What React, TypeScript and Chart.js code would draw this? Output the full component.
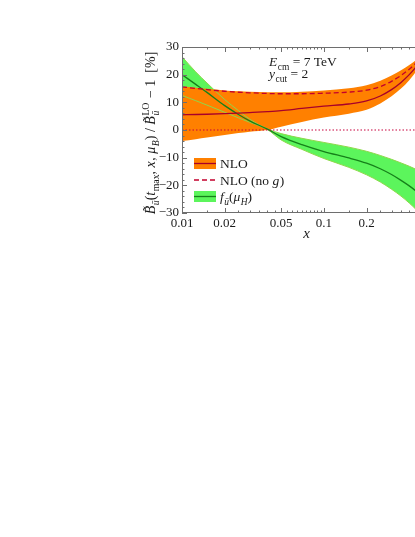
import React, { useEffect, useRef } from "react";
import { Chart, registerables } from "chart.js";

Chart.register(...registerables);

// ---------- data ----------
const X_VALUES = [0.01, 0.0125, 0.015, 0.02, 0.025, 0.03, 0.04, 0.05, 0.07, 0.1, 0.15, 0.2, 0.25, 0.3, 0.35, 0.4, 0.45, 0.5];
const NLO_CENTRAL = [5.5, 5.6, 5.7, 5.9, 6.1, 6.3, 6.65, 7.0, 7.8, 8.6, 9.4, 10.5, 12.3, 14.6, 17.2, 20.0, 23.0, 26.2];
const NLO_NO_G = [15.6, 15.0, 14.6, 14.0, 13.65, 13.45, 13.2, 13.1, 13.1, 13.3, 13.7, 14.4, 15.7, 17.6, 19.7, 22.0, 24.4, 27.0];
const NLO_UPPER = [15.8, 15.3, 14.9, 14.3, 14.0, 13.8, 13.6, 13.6, 13.8, 14.3, 15.1, 16.2, 17.8, 19.7, 21.6, 23.5, 25.4, 27.5];
const NLO_LOWER = [-4.0, -3.3, -2.7, -1.8, -1.1, -0.6, 0.0, 1.2, 2.9, 4.5, 5.9, 7.3, 9.6, 12.2, 15.0, 18.0, 21.3, 25.0];
const F_CENTRAL = [20.0, 16.5, 13.6, 8.8, 5.6, 3.3, 0.3, -2.4, -5.3, -7.8, -10.1, -12.0, -14.0, -16.1, -18.2, -20.2, -22.2, -24.2];
const F_UPPER = [26.5, 21.0, 17.0, 11.0, 7.0, 3.9, 0.4, -1.3, -3.0, -4.5, -6.2, -7.7, -9.2, -10.6, -11.9, -13.1, -14.3, -15.5];
const F_LOWER = [12.5, 10.6, 9.0, 6.4, 4.4, 2.8, 0.2, -3.6, -7.0, -10.3, -13.5, -16.2, -18.8, -21.4, -23.9, -26.4, -28.9, -31.4];

const X_MIN = 0.01;
const X_MAX = 0.5;
const Y_MIN = -30;
const Y_MAX = 30;
const X_MAJOR = [0.01, 0.02, 0.05, 0.1, 0.2, 0.5];
const X_LABELS = ["0.01", "0.02", "0.05", "0.1", "0.2", "0.5"];
const X_MINOR = [0.015, 0.025, 0.03, 0.035, 0.04, 0.045, 0.055, 0.06, 0.065, 0.07, 0.075, 0.08, 0.085, 0.09, 0.095, 0.15, 0.25, 0.3, 0.35, 0.4, 0.45];
const Y_STEP = 2;
const Y_MAJOR_STEP = 10;

const LEGEND_NLO = "NLO";
const LEGEND_NOG = "NLO (no ";
const LEGEND_NOG_G = "g";
const ANNOT_E = "E";
const ANNOT_E_SUB = "cm";
const ANNOT_E_REST = " = 7 TeV";
const ANNOT_Y = "y";
const ANNOT_Y_SUB = "cut";
const ANNOT_Y_REST = " = 2";

// ---------- styles ----------
const FONT = "'Liberation Serif', 'DejaVu Serif', serif";
const TEXT = "#1a1a1a";
const FRAME = "#6e6e6e";
const ORANGE = "#ff8000";
const GREEN = "#5cf55c";
const DARK_RED = "#a8002a";
const DASH_RED = "#c4002c";
const DARK_GREEN = "#16801a";
const EDGE_GREEN = "#8ed84a";
const ZERO_RED = "#c8003c";

type Seg = { t?: string; it?: boolean; sub?: boolean; sup?: boolean; subsup?: [string, string] };

function fontStr(size: number, it?: boolean) {
  return `${it ? "italic " : ""}${size}px ${FONT}`;
}

function segWidth(ctx: CanvasRenderingContext2D, s: Seg, size: number) {
  if (s.subsup) {
    ctx.font = fontStr(size * 0.7, false);
    const a = ctx.measureText(s.subsup[0]).width;
    ctx.font = fontStr(size * 0.7, true);
    const b = ctx.measureText(s.subsup[1]).width;
    return Math.max(a, b) + 1;
  }
  const sz = s.sub || s.sup ? size * 0.7 : size;
  ctx.font = fontStr(sz, s.it);
  return ctx.measureText(s.t || "").width + (s.it && !s.sub ? 0.5 : 0);
}

function drawRich(ctx: CanvasRenderingContext2D, segs: Seg[], x: number, y: number, size: number, align: "left" | "center") {
  const widths = segs.map((s) => segWidth(ctx, s, size));
  const total = widths.reduce((a, b) => a + b, 0);
  let cx = align === "center" ? x - total / 2 : x;
  ctx.textBaseline = "alphabetic";
  ctx.textAlign = "left";
  segs.forEach((s, i) => {
    if (s.subsup) {
      ctx.font = fontStr(size * 0.7, false);
      ctx.fillText(s.subsup[0], cx, y - size * 0.42);
      ctx.font = fontStr(size * 0.7, true);
      ctx.fillText(s.subsup[1], cx, y + size * 0.3);
    } else {
      const sz = s.sub || s.sup ? size * 0.7 : size;
      ctx.font = fontStr(sz, s.it);
      const dy = s.sub ? size * 0.28 : s.sup ? -size * 0.42 : 0;
      ctx.fillText(s.t || "", cx, y + dy);
    }
    cx += widths[i];
  });
}

const Y_TITLE: Seg[] = [
  { t: "B\u0303", it: true },
  { t: "ū", sub: true, it: true },
  { t: "(" },
  { t: "t", it: true },
  { t: "max", sub: true },
  { t: ", " },
  { t: "x", it: true },
  { t: ", " },
  { t: "μ", it: true },
  { t: "B", sub: true, it: true },
  { t: ")" },
  { t: " / " },
  { t: "B\u0303", it: true },
  { subsup: ["LO", "ū"] },
  { t: " − 1  [%]" },
];

const pts = (ys: number[]) => X_VALUES.map((x, i) => ({ x, y: ys[i] }));

const decor = {
  id: "decor",
  afterDatasetsDraw(chart: any) {
    const { ctx, chartArea: a, scales } = chart;
    const xs = scales.x;
    const ys = scales.y;
    ctx.save();
    ctx.strokeStyle = FRAME;
    ctx.lineWidth = 1;
    ctx.beginPath();
    ctx.rect(a.left + 0.5, a.top + 0.5, a.right - a.left - 1, a.bottom - a.top - 1);
    ctx.stroke();
    const seg = (x1: number, y1: number, x2: number, y2: number) => {
      ctx.beginPath();
      ctx.moveTo(x1, y1);
      ctx.lineTo(x2, y2);
      ctx.stroke();
    };
    const xt = [...X_MAJOR.map((v) => [v, 5]), ...X_MINOR.map((v) => [v, 2.5])];
    xt.forEach(([v, len]) => {
      const px = Math.round(xs.getPixelForValue(v)) + 0.5;
      seg(px, a.bottom, px, a.bottom - len);
      seg(px, a.top, px, a.top + len);
    });
    for (let v = Y_MIN; v <= Y_MAX; v += Y_STEP) {
      const len = v % Y_MAJOR_STEP === 0 ? 5 : 2.5;
      const py = Math.round(ys.getPixelForValue(v)) + 0.5;
      seg(a.left, py, a.left + len, py);
      seg(a.right, py, a.right - len, py);
    }
    ctx.restore();
  },
  afterDraw(chart: any) {
    const { ctx, chartArea: a } = chart;
    ctx.save();
    ctx.fillStyle = TEXT;
    // axis titles
    ctx.font = fontStr(15, true);
    ctx.textAlign = "center";
    ctx.textBaseline = "alphabetic";
    ctx.fillText("x", (a.left + 415) / 2 + 8, 238);
    ctx.save();
    ctx.translate(155, (a.top + a.bottom) / 2 + 3);
    ctx.rotate(-Math.PI / 2);
    drawRich(ctx, Y_TITLE, 0, 0, 14, "center");
    ctx.restore();
    // annotation
    drawRich(ctx, [{ t: ANNOT_E, it: true }, { t: ANNOT_E_SUB, sub: true }, { t: ANNOT_E_REST }], 269, 66, 13.5, "left");
    drawRich(ctx, [{ t: ANNOT_Y, it: true }, { t: ANNOT_Y_SUB, sub: true }, { t: ANNOT_Y_REST }], 269, 78, 13.5, "left");
    // legend
    const lx = 194;
    const lw = 22;
    const rows = [163.5, 180, 196.5];
    ctx.fillStyle = ORANGE;
    ctx.fillRect(lx, rows[0] - 5.5, lw, 11);
    ctx.strokeStyle = DARK_RED;
    ctx.lineWidth = 1.3;
    ctx.beginPath();
    ctx.moveTo(lx, rows[0]);
    ctx.lineTo(lx + lw, rows[0]);
    ctx.stroke();
    ctx.strokeStyle = DASH_RED;
    ctx.setLineDash([5, 3]);
    ctx.beginPath();
    ctx.moveTo(lx, rows[1]);
    ctx.lineTo(lx + lw, rows[1]);
    ctx.stroke();
    ctx.setLineDash([]);
    ctx.fillStyle = GREEN;
    ctx.fillRect(lx, rows[2] - 5.5, lw, 11);
    ctx.strokeStyle = DARK_GREEN;
    ctx.beginPath();
    ctx.moveTo(lx, rows[2]);
    ctx.lineTo(lx + lw, rows[2]);
    ctx.stroke();
    ctx.fillStyle = TEXT;
    const tx = lx + lw + 4;
    drawRich(ctx, [{ t: LEGEND_NLO }], tx, rows[0] + 4.5, 13.5, "left");
    drawRich(ctx, [{ t: LEGEND_NOG }, { t: LEGEND_NOG_G, it: true }, { t: ")" }], tx, rows[1] + 4.5, 13.5, "left");
    drawRich(
      ctx,
      [{ t: "f", it: true }, { t: "ū", sub: true, it: true }, { t: "(" }, { t: "μ", it: true }, { t: "H", sub: true, it: true }, { t: ")" }],
      tx,
      rows[2] + 4.5,
      13.5,
      "left"
    );
    ctx.restore();
  },
};

export default function App() {
  const ref = useRef<HTMLCanvasElement | null>(null);
  useEffect(() => {
    if (!ref.current) return;
    Chart.defaults.font.family = FONT;
    const line = (data: number[], color: string, width: number, dash: number[] = []) => ({
      data: pts(data),
      borderColor: color,
      borderWidth: width,
      borderDash: dash,
      pointRadius: 0,
      fill: false,
      cubicInterpolationMode: "monotone" as const,
    });
    const bandTop = (data: number[], color: string) => ({
      data: pts(data),
      borderColor: "rgba(0,0,0,0)",
      borderWidth: 0,
      backgroundColor: color,
      pointRadius: 0,
      fill: "+1",
      cubicInterpolationMode: "monotone" as const,
    });
    const bandBottom = (data: number[]) => ({
      data: pts(data),
      borderColor: "rgba(0,0,0,0)",
      borderWidth: 0,
      pointRadius: 0,
      fill: false,
      cubicInterpolationMode: "monotone" as const,
    });
    const chart = new Chart(ref.current, {
      type: "line",
      data: {
        datasets: [
          line(NLO_CENTRAL, DARK_RED, 1.3),
          line(NLO_NO_G, DASH_RED, 1.3, [5, 3]),
          {
            data: [
              { x: X_MIN, y: 0 },
              { x: X_MAX, y: 0 },
            ],
            borderColor: ZERO_RED,
            borderWidth: 1.2,
            borderDash: [1.5, 2],
            pointRadius: 0,
            fill: false,
          },
          line(F_CENTRAL, DARK_GREEN, 1.3),
          line(F_UPPER, EDGE_GREEN, 1),
          line(F_LOWER, EDGE_GREEN, 1),
          bandTop(NLO_UPPER, ORANGE),
          bandBottom(NLO_LOWER),
          bandTop(F_UPPER, GREEN),
          bandBottom(F_LOWER),
        ] as any,
      },
      options: {
        animation: false,
        responsive: false,
        devicePixelRatio: 1,
        layout: { padding: { left: 0, top: 47, right: 17, bottom: 0 } },
        plugins: { legend: { display: false }, tooltip: { enabled: false } },
        scales: {
          x: {
            type: "logarithmic",
            min: X_MIN,
            max: X_MAX,
            grid: { display: false, drawTicks: false },
            border: { display: false },
            afterBuildTicks: (s: any) => {
              s.ticks = X_MAJOR.map((v) => ({ value: v }));
            },
            afterFit: (s: any) => {
              s.height = 537 - 213;
            },
            ticks: {
              autoSkip: false,
              maxRotation: 0,
              minRotation: 0,
              padding: 3,
              color: TEXT,
              font: { size: 13, family: FONT },
              callback: (v: any) => {
                const i = X_MAJOR.findIndex((m) => Math.abs(m - Number(v)) < 1e-9);
                return i >= 0 ? X_LABELS[i] : "";
              },
            },
          },
          y: {
            type: "linear",
            min: Y_MIN,
            max: Y_MAX,
            grid: { display: false, drawTicks: false },
            border: { display: false },
            afterFit: (s: any) => {
              s.width = 182;
            },
            ticks: {
              stepSize: Y_MAJOR_STEP,
              autoSkip: false,
              padding: 3,
              color: TEXT,
              font: { size: 13, family: FONT },
              callback: (v: any) => {
                const n = Number(v);
                return n < 0 ? "−" + Math.abs(n) : String(n);
              },
            },
          },
        },
      } as any,
      plugins: [decor],
    });
    return () => chart.destroy();
  }, []);
  return (
    <div style={{ position: "fixed", left: 0, top: 0, width: 415, height: 537, overflow: "hidden", background: "#fff" }}>
      <canvas ref={ref} width={440} height={537} style={{ display: "block", width: 440, height: 537 }} />
    </div>
  );
}
